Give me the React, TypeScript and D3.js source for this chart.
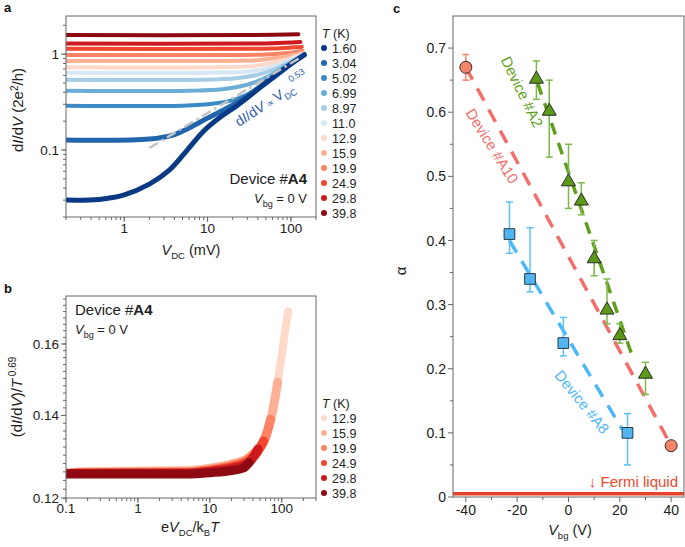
import React from 'react';
import * as d3 from 'd3';

const FONT = '"Liberation Sans", Arial, Helvetica, sans-serif';
const W = 685;
const H = 547;

// ---------------- Panel a data ----------------
const TEMPS_A = ['1.60', '3.04', '5.02', '6.99', '8.97', '11.0', '12.9', '15.9', '19.9', '24.9', '29.8', '39.8'];
const COLORS_A = ['#0b3a84', '#2166ac', '#3d8bc6', '#6badd6', '#a6cde6', '#d8e7f4', '#fdd9c9', '#fcb196', '#fc8464', '#f1472f', '#cc1a1e', '#8e0a12'];
const CURVE_160: [number, number][] = [[0.2, 0.030], [0.5, 0.0305], [1, 0.034], [2, 0.044], [3.5, 0.062], [5.6, 0.098], [9, 0.158], [14, 0.218], [22.5, 0.29], [35, 0.39], [56, 0.54], [90, 0.74], [145, 0.98]];
const CURVE_304: [number, number][] = [[0.2, 0.127], [2, 0.13], [4, 0.145], [6, 0.17], [10, 0.215], [16, 0.265], [25, 0.33], [40, 0.44], [65, 0.6], [100, 0.79], [145, 0.99]];
const CURVE_502: [number, number][] = [[0.2, 0.29], [5, 0.29], [12, 0.305], [22, 0.34], [40, 0.43], [65, 0.58], [100, 0.78], [145, 0.99]];
const CURVE_699: [number, number][] = [[0.2, 0.415], [6, 0.415], [15, 0.43], [30, 0.48], [55, 0.59], [90, 0.77], [145, 0.99]];
const CURVE_897: [number, number][] = [[0.2, 0.54], [8, 0.54], [22, 0.56], [40, 0.61], [65, 0.70], [100, 0.83], [145, 0.99]];
const CURVE_110: [number, number][] = [[0.2, 0.64], [10, 0.64], [30, 0.66], [55, 0.72], [90, 0.84], [145, 1.0]];
const CURVE_129: [number, number][] = [[0.2, 0.73], [12, 0.73], [35, 0.75], [60, 0.81], [100, 0.91], [142, 1.01]];
const CURVE_159: [number, number][] = [[0.2, 0.85], [15, 0.85], [40, 0.865], [70, 0.92], [140, 1.03]];
const CURVE_199: [number, number][] = [[0.2, 0.98], [20, 0.98], [50, 0.99], [90, 1.03], [138, 1.08]];
const CURVE_249: [number, number][] = [[0.2, 1.135], [30, 1.135], [60, 1.145], [100, 1.17], [135, 1.19]];
const CURVE_298: [number, number][] = [[0.2, 1.29], [30, 1.29], [60, 1.30], [130, 1.34]];
const CURVE_398: [number, number][] = [[0.2, 1.58], [30, 1.58], [123, 1.61]];
const CURVES_A = [CURVE_160, CURVE_304, CURVE_502, CURVE_699, CURVE_897, CURVE_110, CURVE_129, CURVE_159, CURVE_199, CURVE_249, CURVE_298, CURVE_398];
const POWER_LAW: [number, number][] = [[2, 0.105], [135, 0.94]];
const XTICKS_A = [1, 10, 100];
const XTICK_LABELS_A = ['1', '10', '100'];
const YTICKS_A = [0.1, 1];
const YTICK_LABELS_A = ['0.1', '1'];

// ---------------- Panel b data ----------------
const TEMPS_B = ['12.9', '15.9', '19.9', '24.9', '29.8', '39.8'];
const COLORS_B = ['#fdd9c9', '#fcb196', '#fc8464', '#f1472f', '#cc1a1e', '#8e0a12'];
const SCALED_129: [number, number][] = [[0.18, 0.1262], [5, 0.1265], [10, 0.127], [20, 0.128], [34, 0.1295], [45, 0.1315], [52, 0.1328], [60, 0.135], [68, 0.138], [76, 0.142], [84, 0.1467], [99, 0.156], [110, 0.163], [123, 0.170]];
const SCALED_159: [number, number][] = [[0.15, 0.126], [5, 0.1262], [10, 0.1268], [20, 0.1278], [34, 0.1292], [45, 0.1312], [52, 0.1325], [60, 0.1348], [68, 0.1378], [76, 0.1418], [88, 0.149]];
const SCALED_199: [number, number][] = [[0.12, 0.1258], [5, 0.126], [10, 0.1265], [20, 0.1275], [34, 0.129], [45, 0.131], [52, 0.1322], [60, 0.1345], [70, 0.139]];
const SCALED_249: [number, number][] = [[0.1, 0.1257], [5, 0.1258], [10, 0.1263], [20, 0.1272], [34, 0.1285], [45, 0.1305], [56, 0.1335]];
const SCALED_298: [number, number][] = [[0.1, 0.1256], [5, 0.1257], [10, 0.1261], [20, 0.1268], [34, 0.128], [47, 0.1315]];
const SCALED_398: [number, number][] = [[0.1, 0.1255], [5, 0.1255], [10, 0.1258], [20, 0.1263], [30, 0.127], [35, 0.1282]];
const CURVES_B = [SCALED_129, SCALED_159, SCALED_199, SCALED_249, SCALED_298, SCALED_398];
const XTICKS_B = [0.1, 1, 10, 100];
const XTICK_LABELS_B = ['0.1', '1', '10', '100'];
const YTICKS_B = [0.12, 0.14, 0.16];
const YTICK_LABELS_B = ['0.12', '0.14', '0.16'];

// ---------------- Panel c data ----------------
const A10_VBG = [-40, 40];
const A10_ALPHA = [0.67, 0.08];
const A10_LO = [0.65, 0.08];
const A10_HI = [0.69, 0.08];
const A2_VBG = [-12.5, -7.5, 0, 5, 10, 15, 20, 30];
const A2_ALPHA = [0.65, 0.60, 0.49, 0.46, 0.37, 0.29, 0.25, 0.19];
const A2_LO = [0.62, 0.53, 0.45, 0.44, 0.345, 0.27, 0.24, 0.16];
const A2_HI = [0.68, 0.65, 0.55, 0.49, 0.40, 0.34, 0.27, 0.21];
const A8_VBG = [-23, -15, -2, 23];
const A8_ALPHA = [0.41, 0.34, 0.24, 0.10];
const A8_LO = [0.38, 0.32, 0.22, 0.05];
const A8_HI = [0.46, 0.42, 0.28, 0.13];
const A10_FIT: [number, number][] = [[-40, 0.67], [40, 0.08]];
const A2_FIT: [number, number][] = [[-12, 0.645], [25, 0.218]];
const A8_FIT: [number, number][] = [[-23, 0.40], [21, 0.105]];
const XTICKS_C = [-40, -20, 0, 20, 40];
const XMINOR_C = [-30, -10, 10, 30];
const YTICKS_C = [0, 0.1, 0.2, 0.3, 0.4, 0.5, 0.6, 0.7];
const YMINOR_C = [0.05, 0.15, 0.25, 0.35, 0.45, 0.55, 0.65];
const FERMI_ALPHA = 0.005;

// ---------------- Scales ----------------
const A_BOX = { x0: 66, x1: 316, y0: 16, y1: 217 };
const B_BOX = { x0: 66, x1: 316, y0: 296, y1: 498 };
const C_BOX = { x0: 453, x1: 684, y0: 16, y1: 497 };

const xA = d3.scaleLog().domain([0.2, 200]).range([A_BOX.x0, A_BOX.x1]);
const yA = d3.scaleLog().domain([0.02, 2.5]).range([A_BOX.y1, A_BOX.y0]);
const xB = d3.scaleLog().domain([0.1, 300]).range([B_BOX.x0, B_BOX.x1]);
const yB = d3.scaleLog().domain([0.12, 0.175]).range([B_BOX.y1, B_BOX.y0]);
const xC = d3.scaleLinear().domain([-45, 45]).range([C_BOX.x0, C_BOX.x1]);
const yC = d3.scaleLinear().domain([0, 0.75]).range([C_BOX.y1, C_BOX.y0]);

function logMinors(lo: number, hi: number): number[] {
  const out: number[] = [];
  for (let k = -3; k <= 3; k++) {
    for (let m = 1; m <= 9; m++) {
      const v = m * Math.pow(10, k);
      if (v >= lo * 0.9999 && v <= hi * 1.0001) out.push(v);
    }
  }
  return out;
}

const AXIS = '#666';
const TXT = '#222';

function Frame({ box }: { box: { x0: number; x1: number; y0: number; y1: number } }) {
  return <rect x={box.x0} y={box.y0} width={box.x1 - box.x0} height={box.y1 - box.y0} fill="none" stroke={AXIS} strokeWidth={1} />;
}

function XTicks({ scale, box, major, labels, minor, fs, labelY }: any) {
  return (
    <g>
      {minor.map((v: number, i: number) => (
        <line key={'m' + i} x1={scale(v)} x2={scale(v)} y1={box.y1} y2={box.y1 + 3} stroke={AXIS} />
      ))}
      {major.map((v: number, i: number) => (
        <g key={'M' + i}>
          <line x1={scale(v)} x2={scale(v)} y1={box.y1} y2={box.y1 + 5} stroke={AXIS} />
          <text x={scale(v)} y={labelY} textAnchor="middle" fontSize={fs} fill={TXT}>{labels[i]}</text>
        </g>
      ))}
    </g>
  );
}

function YTicks({ scale, box, major, labels, minor, fs, labelX }: any) {
  return (
    <g>
      {minor.map((v: number, i: number) => (
        <line key={'m' + i} x1={box.x0 - 3} x2={box.x0} y1={scale(v)} y2={scale(v)} stroke={AXIS} />
      ))}
      {major.map((v: number, i: number) => (
        <g key={'M' + i}>
          <line x1={box.x0 - 5} x2={box.x0} y1={scale(v)} y2={scale(v)} stroke={AXIS} />
          <text x={labelX} y={scale(v)} dy="0.36em" textAnchor="end" fontSize={fs} fill={TXT}>{labels[i]}</text>
        </g>
      ))}
    </g>
  );
}

function Legend({ temps, colors, x, y0 }: { temps: string[]; colors: string[]; x: number; y0: number }) {
  return (
    <g fontSize={12.5} fill={TXT}>
      <text x={x - 1} y={y0} dy="0.36em"><tspan fontStyle="italic">T</tspan> (K)</text>
      {temps.map((t, i) => (
        <g key={t}>
          <circle cx={x + 1} cy={y0 + 15 * (i + 1)} r={3} fill={colors[i]} />
          <text x={x + 9} y={y0 + 15 * (i + 1)} dy="0.36em">{t}</text>
        </g>
      ))}
    </g>
  );
}

function ErrorBars({ vbg, lo, hi, color }: { vbg: number[]; lo: number[]; hi: number[]; color: string }) {
  return (
    <g stroke={color} strokeWidth={1.5}>
      {vbg.map((v, i) => (
        lo[i] === hi[i] ? null : (
          <g key={i}>
            <line x1={xC(v)} x2={xC(v)} y1={yC(lo[i])} y2={yC(hi[i])} />
            <line x1={xC(v) - 3.5} x2={xC(v) + 3.5} y1={yC(lo[i])} y2={yC(lo[i])} />
            <line x1={xC(v) - 3.5} x2={xC(v) + 3.5} y1={yC(hi[i])} y2={yC(hi[i])} />
          </g>
        )
      ))}
    </g>
  );
}

export default function App() {
  const lineA = d3.line<[number, number]>().x(d => xA(d[0])).y(d => yA(d[1])).curve(d3.curveCatmullRom.alpha(0.5));
  const lineB = d3.line<[number, number]>().x(d => xB(d[0])).y(d => yB(d[1])).curve(d3.curveMonotoneX);
  const lineC = d3.line<[number, number]>().x(d => xC(d[0])).y(d => yC(d[1]));
  const tri = d3.symbol(d3.symbolTriangle, 85)()!;
  const sq = d3.symbol(d3.symbolSquare, 115)()!;

  const orderA = CURVES_A.map((_, i) => i).reverse();

  return (
    <svg width={W} height={H} style={{ position: 'absolute', left: 0, top: 0, background: '#fff' }} fontFamily={FONT}>
      <defs>
        <clipPath id="clipA"><rect x={A_BOX.x0} y={A_BOX.y0} width={A_BOX.x1 - A_BOX.x0} height={A_BOX.y1 - A_BOX.y0} /></clipPath>
        <clipPath id="clipB"><rect x={B_BOX.x0} y={B_BOX.y0} width={B_BOX.x1 - B_BOX.x0} height={B_BOX.y1 - B_BOX.y0} /></clipPath>
        <clipPath id="clipC"><rect x={C_BOX.x0} y={C_BOX.y0} width={C_BOX.x1 - C_BOX.x0} height={C_BOX.y1 - C_BOX.y0} /></clipPath>
      </defs>

      {/* ================= Panel a ================= */}
      <text x={4} y={12} fontSize={13} fontWeight="bold" fill="#111">a</text>
      <g clipPath="url(#clipA)">
        {orderA.map(i => (
          <path key={i} d={lineA(CURVES_A[i]) || ''} fill="none" stroke={COLORS_A[i]} strokeWidth={i < 2 ? 5 : 4} strokeLinecap="round" />
        ))}
        <path d={lineA(POWER_LAW) || ''} fill="none" stroke="#c4c4c4" strokeWidth={2.5} strokeDasharray="10,4,2.5,4" />
      </g>
      <Frame box={A_BOX} />
      <XTicks scale={xA} box={A_BOX} major={XTICKS_A} labels={XTICK_LABELS_A} minor={logMinors(0.2, 200)} fs={13.5} labelY={233} />
      <YTicks scale={yA} box={A_BOX} major={YTICKS_A} labels={YTICK_LABELS_A} minor={logMinors(0.02, 2.5)} fs={13.5} labelX={59} />
      <text x={191} y={255} textAnchor="middle" fontSize={14.5} fill={TXT}>
        <tspan fontStyle="italic">V</tspan><tspan dy={4} fontSize={9.5}>DC</tspan><tspan dy={-4}> (mV)</tspan>
      </text>
      <text transform="translate(23,110) rotate(-90)" textAnchor="middle" fontSize={15} fill={TXT}>
        d<tspan fontStyle="italic">I</tspan>/d<tspan fontStyle="italic">V</tspan> (2e<tspan dy={-5} fontSize={10}>2</tspan><tspan dy={5}>/h)</tspan>
      </text>
      <text x={307} y={184} textAnchor="end" fontSize={15} fill={TXT}>Device #<tspan fontWeight="bold">A4</tspan></text>
      <text x={307} y={203} textAnchor="end" fontSize={13} fill={TXT}>
        <tspan fontStyle="italic">V</tspan><tspan dy={4} fontSize={9}>bg</tspan><tspan dy={-4}> = 0 V</tspan>
      </text>
      <text transform="translate(239,127) rotate(-33)" fontSize={14} fill="#2a5ba8">
        d<tspan fontStyle="italic">I</tspan>/d<tspan fontStyle="italic">V</tspan><tspan fontSize={10}> ∝ </tspan>V<tspan dy={4} fontSize={9}>DC</tspan><tspan dy={-13} fontSize={9}>0.53</tspan>
      </text>
      <Legend temps={TEMPS_A} colors={COLORS_A} x={323} y0={33} />

      {/* ================= Panel b ================= */}
      <text x={4} y={293} fontSize={13} fontWeight="bold" fill="#111">b</text>
      <g clipPath="url(#clipB)">
        {CURVES_B.map((c, i) => (
          <path key={i} d={lineB(c) || ''} fill="none" stroke={COLORS_B[i]} strokeWidth={i === 0 ? 8 : 9} strokeLinecap="round" />
        ))}
      </g>
      <Frame box={B_BOX} />
      <XTicks scale={xB} box={B_BOX} major={XTICKS_B} labels={XTICK_LABELS_B} minor={logMinors(0.1, 300)} fs={13.5} labelY={513} />
      <YTicks scale={yB} box={B_BOX} major={YTICKS_B} labels={YTICK_LABELS_B} minor={d3.range(0.12, 0.1751, 0.002)} fs={13.5} labelX={59} />
      <text x={190} y={532} textAnchor="middle" fontSize={14.5} fill={TXT}>
        e<tspan fontStyle="italic">V</tspan><tspan dy={4} fontSize={9.5}>DC</tspan><tspan dy={-4}>/k</tspan><tspan dy={4} fontSize={9.5}>B</tspan><tspan dy={-4} fontStyle="italic">T</tspan>
      </text>
      <text transform="translate(22,397) rotate(-90)" textAnchor="middle" fontSize={15} fill={TXT}>
        (d<tspan fontStyle="italic">I</tspan>/d<tspan fontStyle="italic">V</tspan>)/<tspan fontStyle="italic">T</tspan><tspan dy={-6} fontSize={10}> 0.69</tspan>
      </text>
      <text x={75} y={315} fontSize={15} fill={TXT}>Device #<tspan fontWeight="bold">A4</tspan></text>
      <text x={75} y={334} fontSize={13} fill={TXT}>
        <tspan fontStyle="italic">V</tspan><tspan dy={4} fontSize={9}>bg</tspan><tspan dy={-4}> = 0 V</tspan>
      </text>
      <Legend temps={TEMPS_B} colors={COLORS_B} x={323} y0={403} />

      {/* ================= Panel c ================= */}
      <text x={393} y={13} fontSize={13} fontWeight="bold" fill="#111">c</text>
      <g clipPath="url(#clipC)">
        <line x1={C_BOX.x0} x2={C_BOX.x1} y1={yC(FERMI_ALPHA)} y2={yC(FERMI_ALPHA)} stroke="#e8432a" strokeWidth={3.5} />
        <path d={lineC(A10_FIT) || ''} fill="none" stroke="#f36f6c" strokeWidth={3.5} strokeDasharray="14,10" />
        <path d={lineC(A2_FIT) || ''} fill="none" stroke="#5f9f1c" strokeWidth={3.5} strokeDasharray="12,9" />
        <path d={lineC(A8_FIT) || ''} fill="none" stroke="#4db8f5" strokeWidth={3.5} strokeDasharray="14,10" />
        <ErrorBars vbg={A10_VBG} lo={A10_LO} hi={A10_HI} color="#f4866c" />
        <ErrorBars vbg={A2_VBG} lo={A2_LO} hi={A2_HI} color="#7cb84a" />
        <ErrorBars vbg={A8_VBG} lo={A8_LO} hi={A8_HI} color="#5cc0f5" />
        {A10_VBG.map((v, i) => (
          <circle key={'a10' + i} cx={xC(v)} cy={yC(A10_ALPHA[i])} r={6} fill="#f4856b" stroke="#3a2a26" strokeWidth={1} />
        ))}
        {A2_VBG.map((v, i) => (
          <path key={'a2' + i} d={tri} transform={`translate(${xC(v)},${yC(A2_ALPHA[i]) - 1})`} fill="#5a9a17" stroke="#2a2a2a" strokeWidth={1} />
        ))}
        {A8_VBG.map((v, i) => (
          <path key={'a8' + i} d={sq} transform={`translate(${xC(v)},${yC(A8_ALPHA[i])})`} fill="#4fb6f2" stroke="#2e3a44" strokeWidth={1} />
        ))}
      </g>
      <Frame box={C_BOX} />
      <XTicks scale={xC} box={C_BOX} major={XTICKS_C} labels={XTICKS_C.map(String)} minor={XMINOR_C} fs={14} labelY={515} />
      <YTicks scale={yC} box={C_BOX} major={YTICKS_C} labels={YTICKS_C.map(String)} minor={YMINOR_C} fs={14} labelX={446} />
      <text x={570} y={535} textAnchor="middle" fontSize={14.5} fill={TXT}>
        <tspan fontStyle="italic">V</tspan><tspan dy={4} fontSize={9.5}>bg</tspan><tspan dy={-4}> (V)</tspan>
      </text>
      <text transform="translate(406,271) rotate(-90)" textAnchor="middle" fontSize={15} fill={TXT}>α</text>
      <text x={678} y={487} textAnchor="end" fontSize={15} fill="#ef4a2b">↓ Fermi liquid</text>
      <text transform="translate(522,92) rotate(64)" textAnchor="middle" dy="0.35em" fontSize={15} fill="#5f9f1c">Device #A2</text>
      <text transform="translate(492,146) rotate(58)" textAnchor="middle" dy="0.35em" fontSize={15} fill="#f36f6c">Device #A10</text>
      <text transform="translate(582,402) rotate(51)" textAnchor="middle" dy="0.35em" fontSize={15} fill="#4db8f5">Device #A8</text>
    </svg>
  );
}
